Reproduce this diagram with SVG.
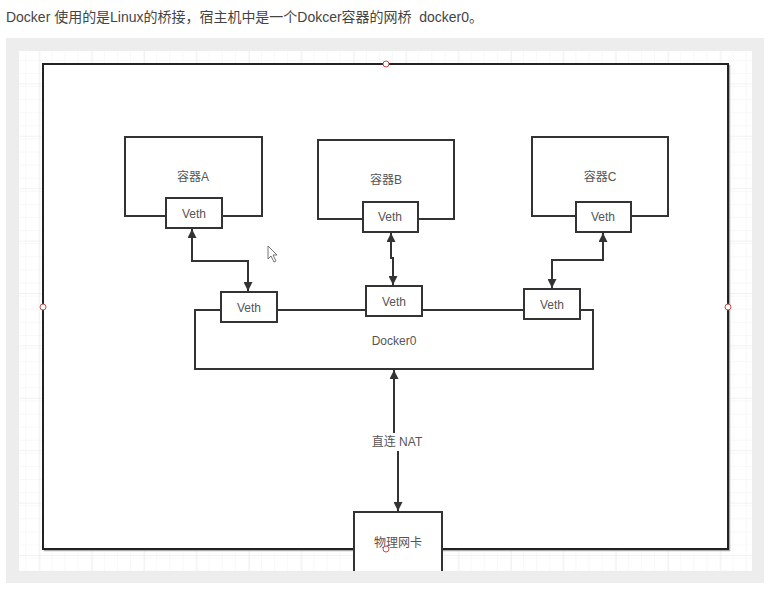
<svg xmlns="http://www.w3.org/2000/svg" width="776" height="595" viewBox="0 0 776 595">
<style>
.box{fill:#fff;stroke:#333;stroke-width:2}
.lbl{font-family:"Liberation Sans","Noto Sans CJK SC",sans-serif;font-size:12px;fill:#555;text-anchor:middle;dominant-baseline:central}
.con{fill:none;stroke:#333;stroke-width:2}
.pt{fill:#fff;stroke:#c0504d;stroke-width:1}
</style>
<defs>
<pattern id="minor" x="13.1" y="8.4" width="13.1" height="13.1" patternUnits="userSpaceOnUse">
<path d="M13.1 0V13.1M0 13.1H13.1" fill="none" stroke="#f2f2f2" stroke-width="1"/>
</pattern>
<pattern id="major" x="39.3" y="31" width="52.4" height="52.4" patternUnits="userSpaceOnUse">
<path d="M0 0V52.4M0 0H52.4" fill="none" stroke="#e6e6e6" stroke-width="1"/>
</pattern>
<marker id="arr" viewBox="0 0 10 10" refX="10" refY="5" markerWidth="9" markerHeight="9" markerUnits="userSpaceOnUse" orient="auto-start-reverse">
<path d="M0 0L10 5L0 10Z" fill="#333"/>
</marker>
</defs>
<rect width="776" height="595" fill="#fff"/>
<text x="6" y="22" font-family="Liberation Sans,'Noto Sans CJK SC',sans-serif" font-size="14" fill="#444" textLength="477" lengthAdjust="spacingAndGlyphs">Docker 使用的是Linux的桥接，宿主机中是一个Dokcer容器的网桥&#160; docker0。</text>
<rect x="6" y="38" width="758" height="545" fill="#ededed"/>
<rect x="19" y="51" width="733" height="520" fill="#fff"/>
<rect x="19" y="51" width="733" height="520" fill="url(#minor)"/>
<rect x="19" y="51" width="733" height="520" fill="url(#major)"/>
<g id="host">
<rect x="44.5" y="65.5" width="685" height="485" fill="none" stroke="#aaa" stroke-width="1.5"/>
<rect x="43" y="64" width="685" height="485" fill="#fff" stroke="#222" stroke-width="2"/>
</g>
<g id="containerA">
<rect class="box" x="125" y="137" width="137" height="79"/>
<text class="lbl" x="193" y="177">容器A</text>
</g>
<g id="vethA">
<rect class="box" x="166" y="198" width="56" height="30"/>
<text class="lbl" x="194" y="214">Veth</text>
</g>
<g id="containerB">
<rect class="box" x="318" y="140" width="136" height="79"/>
<text class="lbl" x="386" y="180">容器B</text>
</g>
<g id="vethB">
<rect class="box" x="363" y="202" width="55" height="30"/>
<text class="lbl" x="390" y="217">Veth</text>
</g>
<g id="containerC">
<rect class="box" x="532" y="137" width="136" height="79"/>
<text class="lbl" x="600" y="177">容器C</text>
</g>
<g id="vethC">
<rect class="box" x="576" y="202" width="55" height="30"/>
<text class="lbl" x="603" y="217">Veth</text>
</g>
<g id="docker0">
<rect class="box" x="195" y="310" width="398" height="59"/>
<text class="lbl" x="394" y="341">Docker0</text>
</g>
<g id="bridgeVeth1">
<rect class="box" x="221" y="292" width="56" height="30"/>
<text class="lbl" x="249" y="308">Veth</text>
</g>
<g id="bridgeVeth2">
<rect class="box" x="366" y="286" width="56" height="30"/>
<text class="lbl" x="394" y="302">Veth</text>
</g>
<g id="bridgeVeth3">
<rect class="box" x="524" y="289" width="56" height="30"/>
<text class="lbl" x="552" y="305">Veth</text>
</g>
<g id="nic">
<rect x="354" y="512" width="88" height="59" fill="#fff"/>
<path d="M354 571V512H442V571" fill="none" stroke="#333" stroke-width="2"/>
<text class="lbl" x="398" y="543">物理网卡</text>
</g>
<g id="connectors">
<path class="con" d="M192 229V261H248V291" marker-start="url(#arr)" marker-end="url(#arr)"/>
<path class="con" d="M391 233V258H393V285" marker-start="url(#arr)" marker-end="url(#arr)"/>
<path class="con" d="M603 233V260H552V288" marker-start="url(#arr)" marker-end="url(#arr)"/>
<path class="con" d="M394 370V442H398V511" marker-start="url(#arr)" marker-end="url(#arr)"/>
<rect x="369" y="433" width="56" height="18" fill="#fff"/>
<text class="lbl" x="397" y="442">直连 NAT</text>
</g>
<g id="handles">
<circle class="pt" cx="386" cy="64" r="3"/>
<circle class="pt" cx="43" cy="307" r="3"/>
<circle class="pt" cx="728" cy="307" r="3"/>
<circle class="pt" cx="386" cy="549" r="3"/>
</g>
<path d="M268 246V259L271 256L274 262L276 261L273 255L277 255Z" fill="#fff" stroke="#555" stroke-width="0.8"/>
</svg>
